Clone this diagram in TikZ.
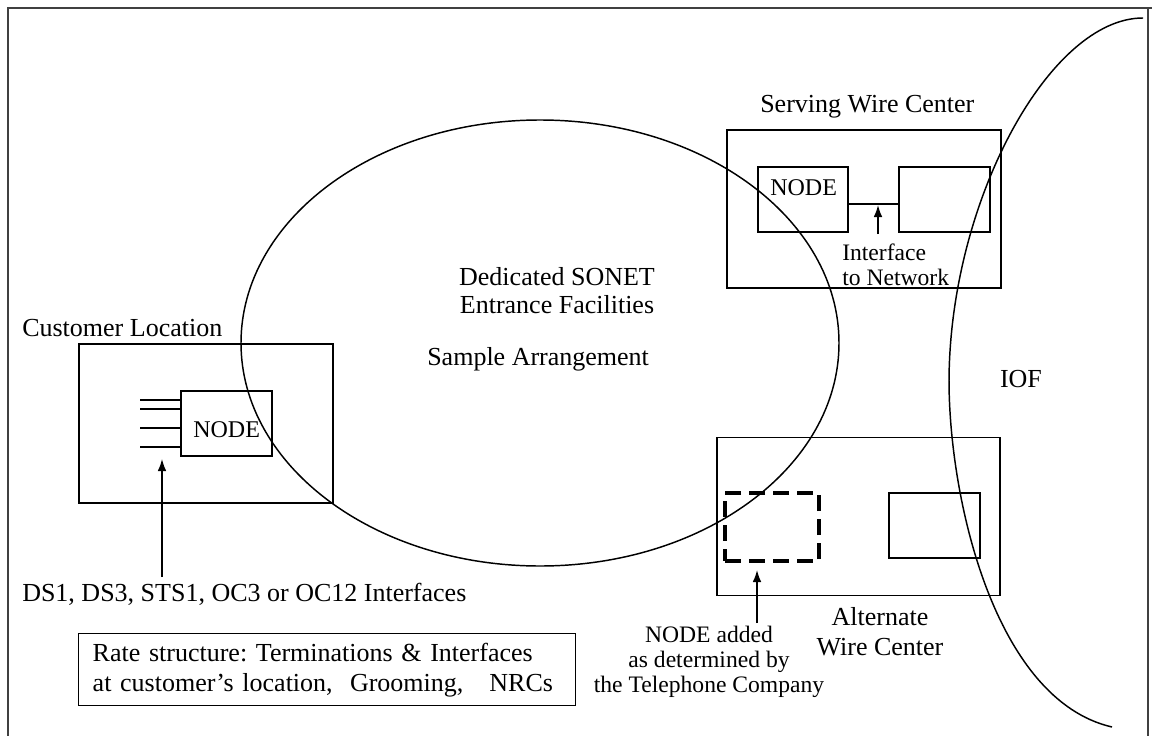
\documentclass[tikz,border=0pt]{standalone}
\usepackage{fontspec}
\setmainfont{Liberation Serif}
\usetikzlibrary{arrows.meta}

\tikzset{
  box/.style={draw, line width=1.1pt, inner sep=0pt},
  dashbox/.style={draw, line width=2.5pt, dash pattern=on 12pt off 6pt, inner sep=0pt},
  lbl/.style={inner sep=0pt, font=\fontsize{19.5}{23}\selectfont},
  nodelbl/.style={inner sep=0pt, font=\fontsize{18}{21}\selectfont},
  smalllbl/.style={inner sep=0pt, font=\fontsize{17.7}{19}\selectfont},
  arr/.style={line width=1.1pt, -{Latex[length=9pt,width=6.5pt]}},
}

\begin{document}
\begin{tikzpicture}[x=0.75pt,y=0.75pt,yscale=-1]
        \useasboundingbox (0,0) rectangle (1152,735);

        %Straight Lines (frame)
        \draw[line width=1.6pt, draw=black!75] (8,740) -- (8,8) -- (1152,8) ;
        \draw[line width=1.2pt, draw=black!75] (1148,8) -- (1148,740) ;

        %Shape: Ellipse
        \draw[line width=1.1pt] (540,343) ellipse (299 and 223) ;

        %Curve Lines (IOF boundary)
        \draw[line width=1.1pt] (1143,18) .. controls (1050,18) and (950,200) .. (949,380) .. controls (949,500) and (995,700) .. (1112,727) ;

        %Shape: Rectangle (customer location)
        \node[box, minimum width=190.5pt, minimum height=119.25pt] (custbox) at (206,423.5) {};
        \node[box, minimum width=68.25pt, minimum height=48.75pt] (custnode) at (226.5,423.5) {};
        \foreach \y [count=\i] in {400,409,428,447}
          { \coordinate (port\i) at (140,\y);
            \draw[line width=1.1pt] (port\i) -- (port\i -| custnode.west) ; }
        %Straight Lines
        \coordinate (portfoot) at (162,577);
        \coordinate (porttip) at (162,459);
        \draw[arr] (portfoot) -- (porttip) ;

        %Shape: Rectangle (serving wire center)
        \node[box, minimum width=205.5pt, minimum height=118.5pt] (swcbox) at (864,209) {};
        \node[box, minimum width=67.5pt, minimum height=48.75pt] (swcnode) at (803,199.5) {};
        \node[box, minimum width=68.25pt, minimum height=48.75pt] (swcnet) at (944.5,199.5) {};
        \draw[line width=1.1pt] ([yshift=3.4pt]swcnode.east) -- ([yshift=3.4pt]swcnet.west) ;
        \coordinate (ifnetfoot) at (878,234);
        \coordinate (ifnettip) at (878,205);
        \draw[arr] (ifnetfoot) -- (ifnettip) ;

        %Shape: Rectangle (alternate wire center)
        \node[box, minimum width=212.25pt, minimum height=118.5pt] (awcbox) at (858.5,516.5) {};
        \node[dashbox, minimum width=70.5pt, minimum height=51pt] (awcnode) at (772,527) {};
        \node[box, minimum width=68.25pt, minimum height=48.75pt] (awcnet) at (934.5,525.5) {};
        \coordinate (addedfoot) at (757,623);
        \coordinate (addedtip) at (757,570);
        \draw[arr] (addedfoot) -- (addedtip) ;

        % Text Node
        \node[lbl, anchor=base west] (custtitle) at (22,336) {Customer Location};
        % Text Node
        \node[nodelbl, anchor=base west] (custnodetxt) at (193,437) {NODE};
        % Text Node
        \node[lbl, anchor=base west] (ifaces) at (22,601) {DS1, DS3, STS1, OC3 or OC12 Interfaces};
        % Text Node
        \node[box, anchor=north west, text width=351.75pt, minimum height=54pt, inner xsep=10.5pt, align=left, font=\fontsize{19.5}{22.5}\selectfont\frenchspacing] (rate) at (78,633) {Rate structure: Terminations \& Interfaces\\at customer’s location,~ Grooming,~~ NRCs};
        % Text Node
        \node[lbl, anchor=base] (dedtxt1) at (557,285) {Dedicated SONET};
        % Text Node
        \node[lbl, anchor=base] (dedtxt2) at (557,313) {Entrance Facilities};
        % Text Node
        \node[lbl, anchor=base west] (sample) at (427,365) {Sample Arrangement};
        % Text Node
        \node[lbl, anchor=base west] (swctitle) at (760,113) {Serving Wire Center};
        % Text Node
        \node[nodelbl, anchor=base west] (swcnodetxt) at (770,195) {NODE};
        % Text Node
        \node[smalllbl, anchor=base west] (ifnet1) at (842,260) {Interface};
        % Text Node
        \node[smalllbl, anchor=base west] (ifnet2) at (842,285) {to Network};
        % Text Node
        \node[lbl, anchor=base] (awctitle1) at (880,625) {Alternate};
        % Text Node
        \node[lbl, anchor=base] (awctitle2) at (880,655) {Wire Center};
        % Text Node
        \node[smalllbl, anchor=base] (added1) at (709,642) {NODE added};
        % Text Node
        \node[smalllbl, anchor=base] (added2) at (709,667) {as determined by};
        % Text Node
        \node[smalllbl, anchor=base] (added3) at (709,692) {the Telephone Company};
        % Text Node
        \node[lbl, anchor=base] (iof) at (1021,387) {IOF};

\end{tikzpicture}
\end{document}
